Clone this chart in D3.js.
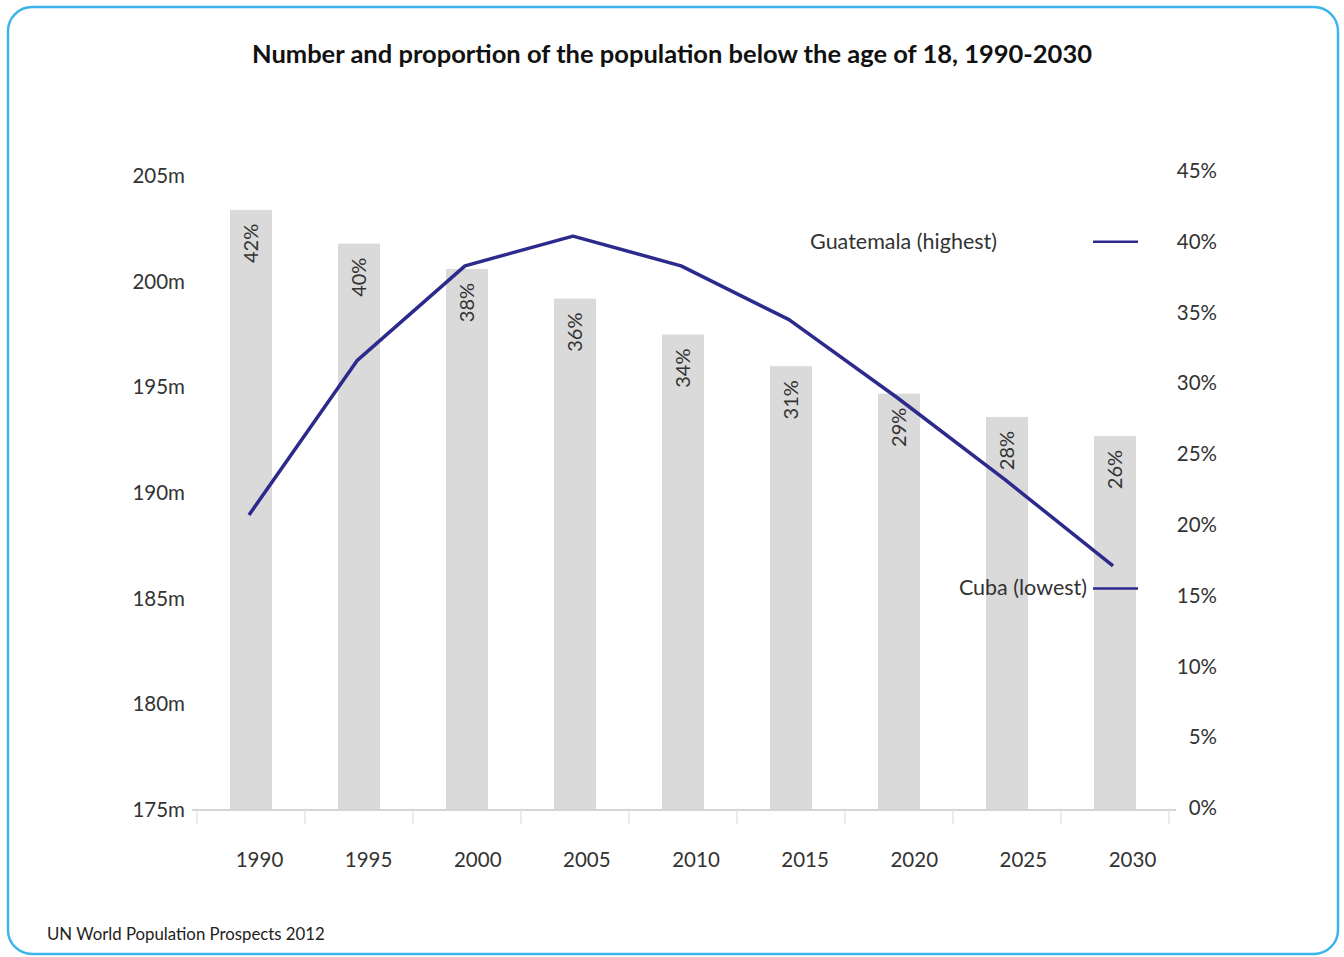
<!DOCTYPE html>
<html>
<head>
<meta charset="utf-8">
<script src="https://cdn.jsdelivr.net/npm/d3@7"></script>
<style>
  body { margin: 0; background: #fff; }
  text { font-family: Lato, "Open Sans", sans-serif; fill: #333; }
</style>
</head>
<body>
<div id="chart"></div>
<script>
// values
const years = ["1990", "1995", "2000", "2005", "2010", "2015", "2020", "2025", "2030"];
const population = [203.4, 201.8, 200.6, 199.2, 197.5, 196.0, 194.7, 193.6, 192.7]; // millions
const proportion = ["42%", "40%", "38%", "36%", "34%", "31%", "29%", "28%", "26%"];
const countryShare = [20.7, 31.6, 38.3, 40.4, 38.3, 34.5, 29.0, 23.2, 17.1]; // %
const leftTicks = [175, 180, 185, 190, 195, 200, 205];
const rightTicks = [0, 5, 10, 15, 20, 25, 30, 35, 40, 45];
const markerNames = ["Guatemala (highest)", "Cuba (lowest)"];
const markerValues = [40, 15.5];

const W = 1344, H = 957;

let svg = d3.select("#chart").append("svg")
    .attr("width", W)
    .attr("height", H);

// frame
svg.append("rect")
    .attr("x", 8).attr("y", 7)
    .attr("width", 1330).attr("height", 947)
    .attr("rx", 24).attr("ry", 24)
    .attr("fill", "#fff")
    .attr("stroke", "#3db5ea")
    .attr("stroke-width", 2.5);

// title
svg.append("text")
    .attr("x", 672).attr("y", 63)
    .attr("text-anchor", "middle")
    .style("font-size", "25.5px")
    .style("font-weight", "bold")
    .style("fill", "#111")
    .text("Number and proportion of the population below the age of 18, 1990-2030");

// scales
let x = d3.scalePoint().domain(years).range([251, 1115]);
let xLab = d3.scalePoint().domain(years).range([259, 1132]);
let yLeft = d3.scaleLinear().domain([175, 205]).range([810, 176]);
let yRight = d3.scaleLinear().domain([0, 45]).range([808, 171]);
const barW = 42;
const step = x.step();

// bars
svg.selectAll(".bar")
    .data(years)
    .enter()
    .append("rect")
    .attr("class", "bar")
    .attr("x", d => x(d) - barW / 2)
    .attr("y", (d, i) => yLeft(population[i]))
    .attr("width", barW)
    .attr("height", (d, i) => yLeft(175) - yLeft(population[i]))
    .attr("fill", "#dadada");

// baseline + faint category ticks
svg.append("line")
    .attr("x1", 192).attr("x2", 1176)
    .attr("y1", yLeft(175)).attr("y2", yLeft(175))
    .attr("stroke", "#d4d4d4").attr("stroke-width", 2);

let sep = years.map(d => x(d) - step / 2).concat([x(years[years.length - 1]) + step / 2]);
svg.selectAll(".sep")
    .data(sep)
    .enter()
    .append("line")
    .attr("x1", d => d).attr("x2", d => d)
    .attr("y1", yLeft(175)).attr("y2", yLeft(175) + 14)
    .attr("stroke", "#e4e4e4").attr("stroke-width", 1.5);

// left axis
let leftAxis = svg.append("g")
    .attr("transform", "translate(185,0)")
    .call(d3.axisLeft(yLeft).tickValues(leftTicks).tickFormat(d => d + "m").tickSize(0).tickPadding(0));
leftAxis.select(".domain").remove();
leftAxis.selectAll("text").style("font-size", "20.5px").attr("dy", "0.32em");

// right axis
let rightAxis = svg.append("g")
    .attr("transform", "translate(1217,0)")
    .call(d3.axisLeft(yRight).tickValues(rightTicks).tickFormat(d => d + "%").tickSize(0).tickPadding(0));
rightAxis.select(".domain").remove();
rightAxis.selectAll("text").style("font-size", "20.5px").attr("dy", "0.32em");

// bottom axis (year labels)
let bottomAxis = svg.append("g")
    .attr("transform", "translate(0,852)")
    .call(d3.axisBottom(xLab).tickSize(0).tickPadding(0));
bottomAxis.select(".domain").remove();
bottomAxis.selectAll("text").style("font-size", "20.5px");

// proportion labels inside bars
svg.selectAll(".bar-label")
    .data(years)
    .enter()
    .append("text")
    .attr("class", "bar-label")
    .attr("transform", (d, i) => `translate(${x(d) + 7},${yLeft(population[i]) + 14}) rotate(-90)`)
    .attr("text-anchor", "end")
    .style("font-size", "20px")
    .text((d, i) => proportion[i]);

// line
let line = d3.line()
    .x((d, i) => x(years[i]) - 2)
    .y(d => yRight(d));

svg.append("path")
    .datum(countryShare)
    .attr("d", line)
    .attr("fill", "none")
    .attr("stroke", "#2c2a8c")
    .attr("stroke-width", 3.5)
    .attr("stroke-linejoin", "round");

// country markers on the right
let markerX = [997, 1087];
markerNames.forEach((name, i) => {
    svg.append("line")
        .attr("x1", 1093).attr("x2", 1138)
        .attr("y1", yRight(markerValues[i])).attr("y2", yRight(markerValues[i]))
        .attr("stroke", "#2c2a8c").attr("stroke-width", 2.5);
    svg.append("text")
        .attr("x", markerX[i])
        .attr("y", yRight(markerValues[i]))
        .attr("dy", "0.32em")
        .attr("text-anchor", "end")
        .style("font-size", "21.5px")
        .text(name);
});

// source
svg.append("text")
    .attr("x", 47).attr("y", 940)
    .style("font-size", "16.8px")
    .style("fill", "#222")
    .text("UN World Population Prospects 2012");
</script>
</body>
</html>
